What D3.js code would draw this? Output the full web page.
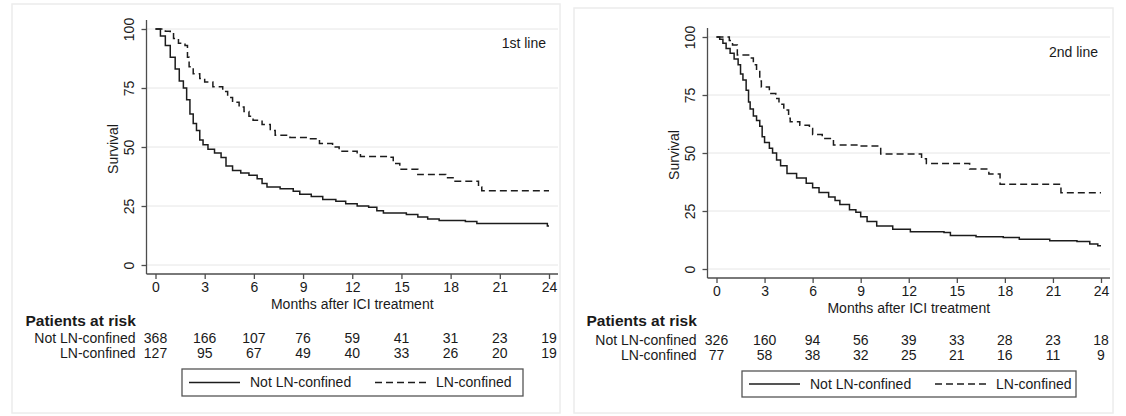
<!DOCTYPE html>
<html>
<head>
<meta charset="utf-8">
<script src="https://cdn.jsdelivr.net/npm/d3@7/dist/d3.min.js"></script>
<style>
  body { margin: 0; background: #fff; }
  svg text { font-family: "Liberation Sans", Arial, sans-serif; fill: #1a1a1a; }
</style>
</head>
<body>
<div id="chart"></div>
<script>
// ---- data ----
var months = [0, 3, 6, 9, 12, 15, 18, 21, 24];
var survTicks = [0, 25, 50, 75, 100];
var groups = ["Not LN-confined", "LN-confined"];
var panelTitles = ["1st line", "2nd line"];

// Kaplan-Meier steps: [month, survival %]
var km1NotLN = [[0,100],[0.3,97],[0.6,93],[0.9,88],[1.2,83],[1.45,78],[1.7,75],[1.9,70],[2.1,64],[2.3,60],
  [2.5,57],[2.7,53],[2.9,51],[3.2,49],[3.6,47.5],[4.0,45.5],[4.3,42],[4.7,40],[5.2,39],[5.7,38],[6.2,36.5],
  [6.5,34.5],[6.8,33],[7.6,32.3],[8.4,31.2],[8.8,30],[9.5,29],[10.2,27.8],[11.0,27],[11.6,26],[12.3,25],
  [13.0,24.5],[13.5,23],[13.9,22],[15.3,21.4],[16.0,20.3],[16.6,19.5],[17.3,18.9],[18.9,18.4],[19.6,17.6],
  [23.9,16.5],[24,16.5]];
var km1LN = [[0,100],[0.6,99],[0.9,98],[1.1,96],[1.4,94],[1.8,93],[1.95,88],[2.05,84],[2.3,81],[2.7,79],
  [3.0,77.5],[3.5,75.5],[4.1,73.5],[4.4,71],[4.7,69],[5.1,67],[5.4,65],[5.7,63],[5.95,61.3],[6.5,59.5],
  [7.0,57],[7.3,55],[8.2,54],[9.4,53.5],[10.0,51.5],[10.8,50],[11.2,48.2],[12.3,47.6],[12.5,46],[14.3,45.7],
  [14.5,43],[14.9,40.6],[16.0,38.3],[17.7,37],[18.2,35.5],[19.7,33],[19.9,31.5],[24,31.5]];
var km2NotLN = [[0,100],[0.2,99],[0.4,97.3],[0.6,95],[0.85,93],[1.1,90.5],[1.35,88],[1.5,84],[1.65,81.5],
  [1.85,77],[2.0,72],[2.1,69],[2.3,66],[2.5,64],[2.7,61.5],[2.85,57],[3.0,54.5],[3.3,52],[3.5,50],[3.75,47],
  [4.0,44.5],[4.4,41.2],[5.0,39.2],[5.6,37],[6.0,35],[6.4,33],[7.0,31],[7.4,29.5],[7.7,27.8],[8.3,25.5],
  [8.7,24.5],[9.0,22.5],[9.4,20.5],[10.0,18.5],[11.0,17.1],[12.1,16.1],[14.2,15.7],[14.6,14.4],[16.2,13.9],
  [17.9,13.6],[18.9,12.8],[20.8,12.2],[22.5,11.8],[23.3,10.8],[23.8,10],[24,10]];
var km2LN = [[0,100],[0.8,98.5],[1.0,96.6],[1.3,92.2],[2.1,91],[2.3,88],[2.5,85.5],[2.7,81],[2.8,78.5],
  [3.3,75.7],[3.7,73.5],[3.9,71],[4.2,68.5],[4.5,65],[4.6,63.5],[5.2,62],[5.8,60.6],[6.0,58],[6.6,56.3],
  [7.3,53.5],[8.9,53],[10.25,49.6],[12.8,47.5],[13.1,45.5],[15.8,43.1],[17.0,41],[17.7,36.5],[21.5,32.9],[24,32.9]];

// patients at risk at each month tick
var risk1NotLN = [368, 166, 107, 76, 59, 41, 31, 23, 19];
var risk1LN = [127, 95, 67, 49, 40, 33, 26, 20, 19];
var risk2NotLN = [326, 160, 94, 56, 39, 33, 28, 23, 18];
var risk2LN = [77, 58, 38, 32, 25, 21, 16, 11, 9];

// ---- layout ----
var width = 1126, height = 416;
var axisGrey = "#4d4d4d";
var dashes = "7,4";

var svg = d3.select("#chart").append("svg")
    .attr("width", width)
    .attr("height", height);

var panels = [
  { frame: [12, 4, 548, 409], left: 146.5, right: 558, top: 20, bottom: 274, pad: 9,
    curves: [km1NotLN, km1LN], risk: [risk1NotLN, risk1LN], title: panelTitles[0],
    titleY: 43, riskHead: 321, rows: [338, 353], legend: [182, 369, 341, 27] },
  { frame: [574, 8, 539, 405], left: 707.5, right: 1110, top: 28, bottom: 278, pad: 9,
    curves: [km2NotLN, km2LN], risk: [risk2NotLN, risk2LN], title: panelTitles[1],
    titleY: 52, riskHead: 321, rows: [340, 355], legend: [742, 371, 334, 26] }
];

panels.forEach(function(p) {
  var g = svg.append("g");

  // faint border round the panel
  g.append("rect")
      .attr("x", p.frame[0]).attr("y", p.frame[1])
      .attr("width", p.frame[2]).attr("height", p.frame[3])
      .attr("fill", "none")
      .attr("stroke", "#ececec")
      .attr("stroke-width", 1.5)

  var x = d3.scaleLinear().domain([0, 24]).range([p.left + p.pad, p.right - p.pad]);
  var y = d3.scaleLinear().domain([0, 100]).range([p.bottom - p.pad, p.top + p.pad]);

  // gridlines
  g.selectAll(".grid")
    .data(survTicks)
    .enter().append("line")
      .attr("x1", p.left).attr("x2", p.right)
      .attr("y1", d => y(d)).attr("y2", d => y(d))
      .attr("stroke", "#e6e6e6")
      .attr("stroke-width", 1)

  // y axis
  var yAxis = g.append("g")
      .attr("transform", "translate(" + p.left + ",0)")
      .call(d3.axisLeft(y).tickValues(survTicks).tickSize(5).tickSizeOuter(0))
  yAxis.select(".domain").attr("d", "M0," + p.top + "V" + p.bottom)
  yAxis.selectAll("path, line").attr("stroke", axisGrey).attr("stroke-width", 1.3)
  yAxis.selectAll("text")
      .attr("transform", "rotate(-90)")
      .attr("x", 0).attr("y", -17).attr("dy", "0.35em")
      .attr("text-anchor", "middle")
      .attr("font-size", 14)
      .style("fill", "#1a1a1a")

  // x axis
  var xAxis = g.append("g")
      .attr("transform", "translate(0," + p.bottom + ")")
      .call(d3.axisBottom(x).tickValues(months).tickSize(5).tickSizeOuter(0).tickPadding(3))
  xAxis.select(".domain").attr("d", "M" + p.left + ",0H" + p.right)
  xAxis.selectAll("path, line").attr("stroke", axisGrey).attr("stroke-width", 1.3)
  xAxis.selectAll("text")
      .attr("font-size", 14)
      .style("fill", "#1a1a1a")

  // axis titles
  g.append("text")
      .text("Survival")
      .attr("transform", "translate(" + (p.left - 33) + "," + ((p.top + p.bottom) / 2 + 2) + ") rotate(-90)")
      .attr("text-anchor", "middle")
      .attr("dy", "0.35em")
      .attr("font-size", 14)

  g.append("text")
      .text("Months after ICI treatment")
      .attr("x", (p.left + p.right) / 2)
      .attr("y", p.bottom + 30)
      .attr("dy", "0.35em")
      .attr("text-anchor", "middle")
      .attr("font-size", 14)

  g.append("text")
      .text(p.title)
      .attr("x", x(24) - 3)
      .attr("y", p.titleY)
      .attr("dy", "0.35em")
      .attr("text-anchor", "end")
      .attr("font-size", 14)

  // survival curves
  var line = d3.line()
      .x(d => x(d[0]))
      .y(d => y(d[1]))
      .curve(d3.curveStepAfter)

  p.curves.forEach(function(c, i) {
    g.append("path")
        .datum(c)
        .attr("d", line)
        .attr("fill", "none")
        .attr("stroke", "#1c1c1c")
        .attr("stroke-width", 1.5)
        .attr("stroke-dasharray", i == 1 ? dashes : null)
  })

  // patients at risk table
  g.append("text")
      .text("Patients at risk")
      .attr("x", x(0) - 130)
      .attr("y", p.riskHead)
      .attr("dy", "0.35em")
      .attr("font-size", 15.5)
      .attr("font-weight", "bold")

  groups.forEach(function(name, i) {
    g.append("text")
        .text(name)
        .attr("x", x(0) - 20)
        .attr("y", p.rows[i])
        .attr("dy", "0.35em")
        .attr("text-anchor", "end")
        .attr("font-size", 14)

    g.selectAll(".risk" + i)
      .data(p.risk[i])
      .enter().append("text")
        .text(d => d)
        .attr("x", (d, j) => x(months[j]))
        .attr("y", p.rows[i])
        .attr("dy", "0.35em")
        .attr("text-anchor", "middle")
        .attr("font-size", 14)
  })

  // legend
  var lg = p.legend;
  g.append("rect")
      .attr("x", lg[0]).attr("y", lg[1])
      .attr("width", lg[2]).attr("height", lg[3])
      .attr("fill", "#fff")
      .attr("stroke", "#555")
      .attr("stroke-width", 1.3)

  var keyStart = [7, 193];
  groups.forEach(function(name, i) {
    var kx = lg[0] + keyStart[i];
    var ky = lg[1] + lg[3] / 2;
    g.append("line")
        .attr("x1", kx).attr("x2", kx + 51)
        .attr("y1", ky).attr("y2", ky)
        .attr("stroke", "#1c1c1c")
        .attr("stroke-width", 1.5)
        .attr("stroke-dasharray", i == 1 ? dashes : null)
    g.append("text")
        .text(name)
        .attr("x", kx + 61)
        .attr("y", ky)
        .attr("dy", "0.35em")
        .attr("font-size", 14)
  })
})
</script>
</body>
</html>
